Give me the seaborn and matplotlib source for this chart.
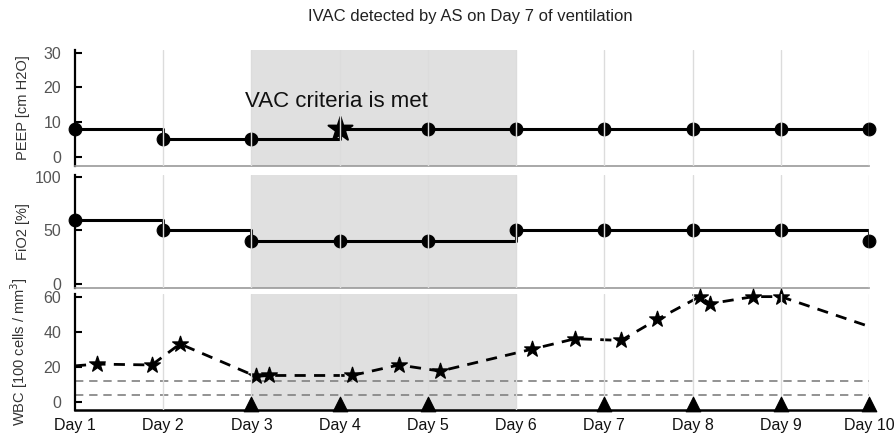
import numpy as np
import pandas as pd
import matplotlib
matplotlib.use("Agg")
import matplotlib.pyplot as plt
import seaborn as sns

sns.set_theme(style="white")
plt.rcParams['font.family'] = ['Liberation Sans', 'DejaVu Sans']

# ---- data ----
days = [1, 2, 3, 4, 5, 6, 7, 8, 9, 10]
day_labels = ["Day 1", "Day 2", "Day 3", "Day 4", "Day 5",
              "Day 6", "Day 7", "Day 8", "Day 9", "Day 10"]
peep = [8, 5, 5, 8, 8, 8, 8, 8, 8, 8]
fio2 = [60, 50, 40, 40, 40, 50, 50, 50, 50, 40]
vac_day = 4
wbc_time = [1, 1.25, 1.87, 2.19, 3.05, 3.2, 4.14, 4.67, 5.14, 6.18,
            6.67, 7.19, 7.6, 8.08, 8.2, 8.69, 9.0, 10]
wbc_vals = [20.5, 21.5, 21, 33, 14.5, 15, 15, 21, 17.5, 30,
            36, 35, 47, 60, 56, 60, 60, 43]
wbc_measured = [False] + [True] * 16 + [False]
wbc_thresholds = [12, 4]
triangle_days = [3, 4, 5, 7, 8, 9, 10]
shade_start, shade_end = 3, 6
title = "IVAC detected by AS on Day 7 of ventilation"

peep_df = pd.DataFrame({"day": days, "val": peep})
fio2_df = pd.DataFrame({"day": days, "val": fio2})
wbc_df = pd.DataFrame({"t": wbc_time, "val": wbc_vals, "m": wbc_measured})

fig = plt.figure(figsize=(8.96, 4.37), dpi=100)
L, W = 75 / 896, 794 / 896
ax1 = fig.add_axes([L, 271 / 437, W, 116 / 437])
ax2 = fig.add_axes([L, 149 / 437, W, 113 / 437])
ax3 = fig.add_axes([L, 27 / 437, W, 116 / 437])

tick_color = "#555555"
for ax in (ax1, ax2, ax3):
    ax.set_xlim(1, 10)
    ax.axvspan(shade_start, shade_end, color="#e0e0e0", lw=0, zorder=0)
    for d in days[1:]:
        ax.axvline(d, color="#dcdcdc", lw=1, zorder=6)
    for s in ("top", "right"):
        ax.spines[s].set_visible(False)
    ax.spines["left"].set_color("black")
    ax.spines["left"].set_linewidth(1.6)
    ax.tick_params(axis="y", direction="in", length=5, width=1.5,
                   colors="black", labelcolor=tick_color, labelsize=11.5, pad=10, left=True)
    ax.set_xticks(days)
    ax.set_xticklabels([])
    ax.tick_params(axis="x", length=0)
    ax.yaxis.set_label_coords(-0.057, 0.5)

for ax in (ax1, ax2):
    ax.spines["bottom"].set_color("#9a9a9a")
    ax.spines["bottom"].set_linewidth(1.2)

# PEEP
sns.lineplot(data=peep_df, x="day", y="val", ax=ax1, color="black", lw=2.2,
             drawstyle="steps-post", zorder=3)
circ = peep_df[peep_df["day"] != vac_day]
sns.scatterplot(data=circ, x="day", y="val", ax=ax1, color="black", s=85,
                marker="o", edgecolor="black", zorder=4, clip_on=False)
star = peep_df[peep_df["day"] == vac_day]
sns.scatterplot(data=star, x="day", y="val", ax=ax1, color="black", s=330,
                marker="*", edgecolor="black", zorder=4, clip_on=False)
ax1.text(2.93, 16, "VAC criteria is met", fontsize=16, ha="left", va="center",
         color="#111111", zorder=7)
ax1.set_ylim(-2.7, 30.8)
ax1.set_yticks([0, 10, 20, 30])
ax1.set_ylabel("PEEP [cm H2O]", fontsize=10.5, color="#333333")
ax1.set_xlabel("")

# FiO2
sns.lineplot(data=fio2_df, x="day", y="val", ax=ax2, color="black", lw=2.2,
             drawstyle="steps-post", zorder=3)
sns.scatterplot(data=fio2_df, x="day", y="val", ax=ax2, color="black", s=85,
                marker="o", edgecolor="black", zorder=4, clip_on=False)
ax2.set_ylim(-3.4, 101.5)
ax2.set_yticks([0, 50, 100])
ax2.set_ylabel("FiO2 [%]", fontsize=10.5, color="#333333")
ax2.set_xlabel("")

# WBC
for th in wbc_thresholds:
    ax3.axhline(th, color="#808080", lw=1.2, ls=(0, (5, 3.5)), zorder=2)
sns.lineplot(data=wbc_df, x="t", y="val", ax=ax3, color="black", lw=2,
             zorder=3, sort=False)
ax3.lines[-1].set_dashes((4, 3))
sns.scatterplot(data=wbc_df[wbc_df["m"]], x="t", y="val", ax=ax3, color="black",
                s=140, marker="*", edgecolor="black", zorder=4, clip_on=False)
tri = pd.DataFrame({"day": triangle_days, "y": [-1] * len(triangle_days)})
sns.scatterplot(data=tri, x="day", y="y", ax=ax3, color="black", s=110,
                marker="^", edgecolor="black", zorder=7, clip_on=False)
ax3.set_ylim(-4.7, 61.5)
ax3.set_yticks([0, 20, 40, 60])
ax3.set_ylabel("WBC [100 cells / mm$^3$]", fontsize=10.5, color="#333333")
ax3.set_xlabel("")
ax3.spines["bottom"].set_color("black")
ax3.spines["bottom"].set_linewidth(1.8)
ax3.set_xticklabels(day_labels, fontsize=11.5, color="#111111")
ax3.tick_params(axis="x", pad=6)

fig.text(0.525, 0.963, title, ha="center", va="center", fontsize=12, color="#222222")

fig.savefig("out.png", dpi=100)
